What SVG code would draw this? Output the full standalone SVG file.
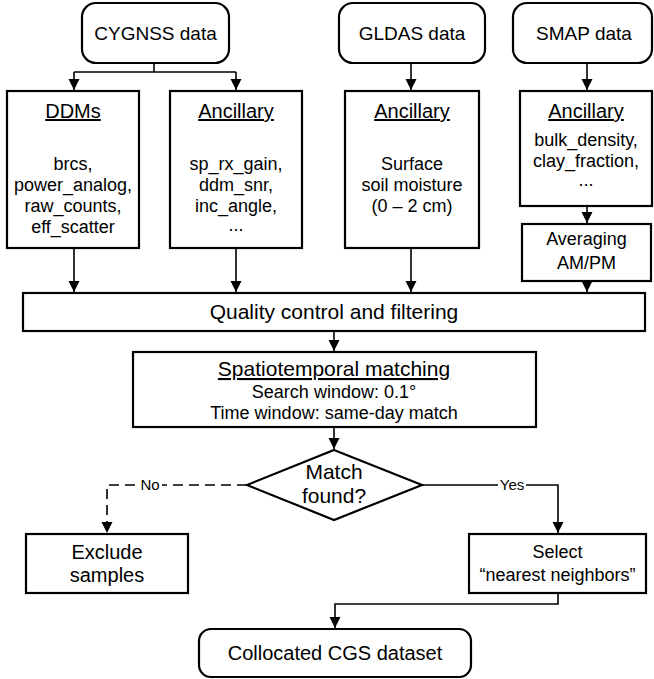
<svg xmlns="http://www.w3.org/2000/svg" width="654" height="679" viewBox="0 0 654 679">
<style>
.box{fill:#fff;stroke:#000;stroke-width:2.2}
.t{font-family:"Liberation Sans",Arial,sans-serif;fill:#000;text-anchor:middle}
.s18{font-size:18px}
.s19{font-size:19px}
.s20{font-size:20px}
.s21{font-size:21px}
.s15{font-size:15px}
.u{text-decoration:underline}
.c{fill:none;stroke:#000;stroke-width:1.6}
.d{stroke-dasharray:10 6}
</style>
<defs>
<marker id="ah" markerUnits="userSpaceOnUse" markerWidth="12" markerHeight="14" refX="11" refY="5.5" orient="auto">
<path d="M0,0 L11,5.5 L0,11 Z" fill="#000"/>
</marker>
</defs>
<rect width="654" height="679" fill="#fff"/>

<g id="connectors">
<path class="c" d="M154,63 V72 M74,72 H236"/>
<path class="c" d="M74,72 V90" marker-end="url(#ah)"/>
<path class="c" d="M236,72 V90" marker-end="url(#ah)"/>
<path class="c" d="M411,63 V90" marker-end="url(#ah)"/>
<path class="c" d="M587,63 V90" marker-end="url(#ah)"/>
<path class="c" d="M587,206 V223" marker-end="url(#ah)"/>
<path class="c" d="M74,248 V292" marker-end="url(#ah)"/>
<path class="c" d="M236,248 V292" marker-end="url(#ah)"/>
<path class="c" d="M411,248 V292" marker-end="url(#ah)"/>
<path class="c" d="M587,281 V292" marker-end="url(#ah)"/>
<path class="c" d="M334,331 V351" marker-end="url(#ah)"/>
<path class="c" d="M334,427 V449" marker-end="url(#ah)"/>
<path class="c d" d="M247,485 H107 V533" marker-end="url(#ah)"/>
<rect x="138" y="477" width="24" height="16" fill="#fff"/>
<text class="t s15" x="150" y="490">No</text>
<path class="c" d="M422,485 H558 V533" marker-end="url(#ah)"/>
<rect x="498" y="477" width="28" height="16" fill="#fff"/>
<text class="t s15" x="512" y="490">Yes</text>
<path class="c" d="M558,593 V604 H335 V628" marker-end="url(#ah)"/>
</g>

<g id="cygnss">
<rect class="box" x="82" y="3" width="147" height="60" rx="14"/>
<text class="t s19" x="155.5" y="40">CYGNSS data</text>
</g>
<g id="gldas">
<rect class="box" x="339" y="3" width="146" height="60" rx="14"/>
<text class="t s19" x="412" y="40">GLDAS data</text>
</g>
<g id="smap">
<rect class="box" x="513" y="3" width="139" height="60" rx="14"/>
<text class="t s19" x="584" y="40">SMAP data</text>
</g>

<g id="ddms">
<rect class="box" x="7" y="91" width="132" height="157"/>
<text class="t s20 u" x="73" y="118">DDMs</text>
<text class="t s18" x="73" y="170">brcs,</text>
<text class="t s18" x="73" y="191">power_analog,</text>
<text class="t s18" x="73" y="212">raw_counts,</text>
<text class="t s18" x="73" y="233">eff_scatter</text>
</g>
<g id="cygnss-ancillary">
<rect class="box" x="170" y="91" width="132" height="157"/>
<text class="t s20 u" x="236" y="118">Ancillary</text>
<text class="t s18" x="236" y="170">sp_rx_gain,</text>
<text class="t s18" x="236" y="191">ddm_snr,</text>
<text class="t s18" x="236" y="212">inc_angle,</text>
<text class="t s18" x="236" y="231">...</text>
</g>
<g id="gldas-ancillary">
<rect class="box" x="345" y="91" width="134" height="157"/>
<text class="t s20 u" x="412" y="118">Ancillary</text>
<text class="t s18" x="412" y="170">Surface</text>
<text class="t s18" x="412" y="191">soil moisture</text>
<text class="t s18" x="412" y="212">(0 – 2 cm)</text>
</g>
<g id="smap-ancillary">
<rect class="box" x="520" y="91" width="132" height="115"/>
<text class="t s20 u" x="586" y="118">Ancillary</text>
<text class="t s18" x="586" y="146">bulk_density,</text>
<text class="t s18" x="586" y="167">clay_fraction,</text>
<text class="t s18" x="586" y="186">...</text>
</g>
<g id="averaging">
<rect class="box" x="522" y="224" width="129" height="57"/>
<text class="t s18" x="586.5" y="245">Averaging</text>
<text class="t s18" x="586.5" y="269">AM/PM</text>
</g>

<g id="quality">
<rect class="box" x="23" y="293" width="622" height="38"/>
<text class="t s21" x="334" y="319">Quality control and filtering</text>
</g>
<g id="matching">
<rect class="box" x="133" y="352" width="403" height="75"/>
<text class="t s21 u" x="334" y="376">Spatiotemporal matching</text>
<text class="t s18" x="334" y="398">Search window: 0.1°</text>
<text class="t s18" x="334" y="419">Time window: same-day match</text>
</g>
<g id="decision">
<polygon class="box" points="334,450 422,485 334,520 247,485"/>
<text class="t s21" x="334" y="479">Match</text>
<text class="t s21" x="334" y="503">found?</text>
</g>
<g id="exclude">
<rect class="box" x="26" y="534" width="162" height="59"/>
<text class="t s20" x="107" y="559">Exclude</text>
<text class="t s20" x="107" y="582">samples</text>
</g>
<g id="select">
<rect class="box" x="469" y="534" width="177" height="59"/>
<text class="t s18" x="557.5" y="558">Select</text>
<text class="t s18" x="557.5" y="581">“nearest neighbors”</text>
</g>
<g id="collocated">
<rect class="box" x="199" y="629" width="272" height="48" rx="12"/>
<text class="t s20" x="335" y="660">Collocated CGS dataset</text>
</g>
</svg>
